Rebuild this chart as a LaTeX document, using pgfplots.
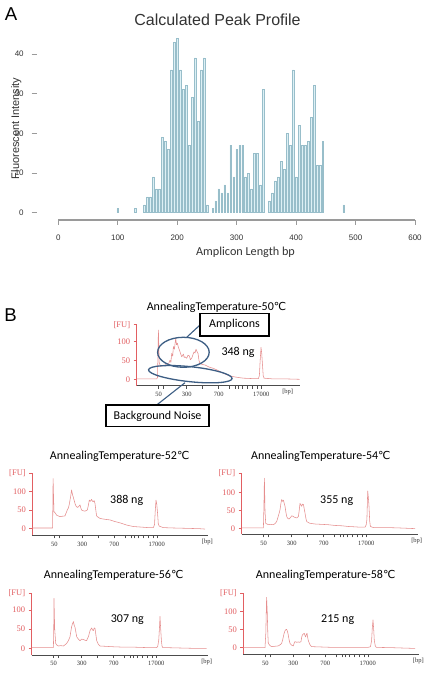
\documentclass[border=0pt]{standalone}
\usepackage{fontspec}
\setmainfont{Liberation Sans}
\newfontfamily\calfont{Carlito}
\newfontfamily\serfont{Liberation Serif}
\newfontfamily\dvfont{DejaVu Sans}
\usepackage{pgfplots}
\pgfplotsset{compat=1.18}
\definecolor{barfill}{HTML}{DDF0F5}
\definecolor{baredge}{HTML}{98BECA}
\definecolor{axgray}{HTML}{9A9A9A}
\definecolor{txtgray}{HTML}{333333}
\definecolor{furred}{HTML}{E25F62}
\definecolor{trace}{HTML}{E68E8E}
\definecolor{callblue}{HTML}{3D5E84}
\newcommand{\degC}{{\dvfont\fontsize{11}{12}\selectfont ℃}}
\newcommand{\ttl}[1]{{\calfont\fontsize{12}{14}\selectfont AnnealingTemperature-#1\degC}}
\pgfplotsset{
 ep/.style={
  scale only axis, xmin=0, axis lines=left, axis line style={-},
  x axis line style={draw=black!70, line width=0.6pt, -},
  y axis line style={draw=furred, line width=0.7pt, -},
  tick align=outside, major tick length=3pt, minor tick length=3pt,
  xtick={22,50,82,124.5}, xticklabels={50,300,700,17000},
  minor xtick={27,66,93,98.5,102,105.5,111,115.5,121},
  x tick style={draw=black!70, line width=0.5pt},
  ytick={0,50,100}, y tick style={draw=furred, line width=0.6pt},
  yticklabel style={font=\serfont\fontsize{8.5}{9}\selectfont, text=furred},
  xticklabel style={font=\serfont\fontsize{6.5}{7}\selectfont, text=black!80},
  /pgf/number format/assume math mode=true,
  extra x tick style={major tick length=0pt},
  extra x tick labels={[bp]},
  extra y tick labels={[FU]},
  clip=false,
 },
 trc/.style={trace, line width=0.55pt, no marks, line join=round},
}
\begin{document}
\begin{tikzpicture}
\useasboundingbox (0,0) rectangle (430pt,674pt);
\fill[white] (0,0) rectangle (430pt,674pt);

% ---------------- Panel A ----------------
\begin{axis}[at={(36.7pt,454pt)}, anchor=south west, scale only axis,
  width=378.3pt, height=185.9pt, xmin=-36.3, xmax=600, ymin=-1.84, ymax=45,
  axis lines=left, axis line style={draw=none}, tick align=outside,
  major tick length=5pt, tick style={draw=axgray, line width=0.7pt},
  xtick={0,100,...,600}, ytick={0,10,...,40},
  ticklabel style={font=\fontsize{8}{8}\selectfont, text=txtgray},
  xticklabel style={yshift=-6pt},
  yticklabel style={xshift=-4.5pt},
  /pgf/number format/assume math mode=true, clip=false]
\addplot[ybar, bar width=1.7pt, fill=barfill, draw=baredge, line width=0.45pt] coordinates {
(100,1)(130,1)(145,2)(150,4)(155,4)(160,9)(165,6)(170,6)(175,19)(180,18)(185,16)
(190,36)(195,43)(200,44)(205,36)(210,31)(215,32)(220,17)(225,29)(230,39)(235,23)
(240,36)(245,39)(250,2)(260,1)(265,3)(270,6)(275,5)(280,7)(285,5)(290,17)(295,9)
(300,16)(305,17)(310,17)(315,9)(320,10)(325,6)(330,15)(335,15)(340,7)(345,31)
(355,3)(360,5)(365,8)(370,9)(375,13)(380,11)(385,20)(390,17)(395,36)(400,9)
(405,22)(410,17)(415,17)(420,18)(425,24)(430,32)(435,12)(440,12)(445,18)(480,2)};
\draw[axgray, line width=1.2pt] (axis cs:0,-1.84) -- (axis cs:600,-1.84);
\end{axis}

% ---------------- Panel B : 50 ----------------
\begin{axis}[ep, at={(136.7pt,288.3pt)}, anchor=south west, width=163pt, height=60.9pt,
  xmax=163, ymin=-17, ymax=145, extra x ticks={151}, extra y ticks={145}]
\addplot[trc] coordinates {
(0,1)(10,1)(20,1)(20.8,5)(21.7,131)(22.5,45)(23.3,38)(25,34)(26.7,38)(28.3,36)(30,42)
(31.7,40)(33.3,51)(34.2,45)(35,69)(36,62)(36.7,87)(37.7,80)(39,109)(39.8,92)(40.7,96)
(41.7,85)(42.7,78)(43.7,70)(45,60)(46.7,67)(47.5,58)(48.3,60)(50,56)(51.3,64)(52.7,62)
(53.7,52)(55,56)(56.3,66)(57.3,73)(58.3,70)(59.3,80)(60.3,74)(61.3,69)(62.3,50)(63.3,42)
(65,40)(68.3,38)(72,33)(76.7,29)(81,24)(86.7,16)(91,11)(96.7,7)(101,5)(106.7,3)(115,2)
(121.7,2)(122.7,10)(123.3,42)(124.3,85)(125,70)(125.7,42)(126.5,10)(127.3,3)(132,2)
(136.7,1)(150,1)(163,0)};
\end{axis}

% ---------------- Panel B : 52 ----------------
\begin{axis}[ep, at={(32.3pt,138.7pt)}, anchor=south west, width=176pt, height=61.85pt,
  xmax=176, ymin=-19, ymax=150, extra x ticks={175}, extra y ticks={150}]
\addplot[trc] coordinates {
(0,1)(10,1)(20.3,1)(20.8,136)(21.3,80)(21.7,45)(23,42)(24.3,36)(26,34)(27.7,32)(30,33)
(32.7,34)(33.5,40)(34.3,45)(35.2,52)(36,55)(37,66)(37.7,77)(38.5,90)(39.3,105)(40.2,92)
(41,85)(42,75)(42.7,68)(43.5,62)(44.3,59)(45.3,57)(46.5,60)(47.7,64)(48.5,56)(49.3,50)
(51,48)(52.7,47)(54,49)(55,50)(56,62)(57,77)(58,74)(59.3,79)(60.2,74)(61,73)(61.8,76)
(62.7,68)(63.5,50)(64.3,34)(66,30)(67.7,27)(72,25)(77.7,23)(82,19)(87.7,15)(91,12)
(94.3,9)(101,5)(106,4)(111,3)(116,2)(121,2)(122.2,10)(123,50)(123.7,77)(124.5,65)
(125.3,40)(126,12)(127,6)(131,2)(141,1)(155,0)(167.7,-1)(172.7,-2)};
\end{axis}

% ---------------- Panel B : 54 ----------------
\begin{axis}[ep, at={(241.7pt,139.7pt)}, anchor=south west, width=176pt, height=61.06pt,
  xmax=176, ymin=-17, ymax=155, extra x ticks={175}, extra y ticks={155}]
\addplot[trc] coordinates {
(0,1)(10,1)(21.7,1)(22.2,60)(22.7,141)(23.3,50)(24,14)(25.3,12)(26.7,10)(29,11)(31.7,10)
(33.3,13)(35,19)(36.7,35)(37.7,45)(38.3,52)(39.2,70)(40,81)(40.8,76)(41.7,79)(42.5,70)
(43.3,62)(44.2,45)(45,33)(46,28)(47.3,26)(48.7,30)(50,35)(51.3,34)(52.7,31)(54,30)
(55,29)(55.8,31)(56.7,33)(57.5,50)(58.3,70)(59.2,66)(60,62)(60.8,68)(61.7,67)(62.5,55)
(63.3,43)(64.2,28)(65,19)(66.7,16)(68.3,14)(73.3,12)(80,11)(86.7,10)(93,8)(100,7)
(106.7,5)(113.3,4)(118.3,3)(123.3,3)(124.5,10)(125.2,25)(126,105)(126.7,85)(127.3,62)
(128,20)(128.7,5)(131.7,2)(145,2)(156.7,1)(173.3,-1)};
\end{axis}

% ---------------- Panel B : 56 ----------------
\begin{axis}[ep, at={(31.7pt,19pt)}, anchor=south west, width=176pt, height=61.7pt,
  xmax=176, ymin=-17.5, ymax=143.6, extra x ticks={175}, extra y ticks={143.6}]
\addplot[trc] coordinates {
(0,2)(10,2)(21.7,2)(22,40)(22.3,130)(23,50)(24,13)(25.3,8)(26.7,6)(29,7)(31.7,6)(33.3,9)
(35,13)(36.7,20)(38.3,30)(39.2,45)(40,57)(40.8,64)(41.7,70)(42.5,60)(43.3,55)(44.2,42)
(45,30)(46.7,24)(48.3,20)(50,24)(51.7,23)(53.3,21)(55,20)(55.8,26)(56.7,30)(57.5,38)
(58.3,46)(59.2,50)(60,53)(60.8,48)(61.7,46)(62.5,53)(63.3,52)(64.2,35)(65,20)(66.7,10)
(68.3,6)(75,5)(81.7,4)(91.7,3)(101.7,3)(113,2)(125,2)(126,5)(127,20)(127.7,50)(128.3,83)
(129,50)(129.7,20)(130.3,6)(131,2)(145,1)(160,0)(175,0)};
\end{axis}

% ---------------- Panel B : 58 ----------------
\begin{axis}[ep, at={(243.3pt,19.7pt)}, anchor=south west, width=176pt, height=60.95pt,
  xmax=176, ymin=-18.3, ymax=151, extra x ticks={175}, extra y ticks={151}]
\addplot[trc] coordinates {
(0,0)(10,0)(21.7,0)(22.5,40)(23.3,140)(24,95)(24.5,40)(25,12)(26.7,6)(28.3,3)(31.7,4)
(35,5)(36.7,8)(38.3,12)(39.2,20)(40,30)(40.8,40)(41.7,47)(42.5,50)(43.3,51)(44.2,45)
(45,35)(45.8,22)(46.7,12)(48.3,7)(50,5)(50.8,12)(51.7,17)(53.3,15)(55,16)(56.3,15)
(57.7,17)(58.3,28)(59,35)(60,38)(61,40)(61.7,34)(62.3,30)(63,36)(63.7,40)(64.3,30)
(65,20)(66.7,8)(68.3,3)(78,2)(88.3,1)(105,1)(125,1)(127.2,3)(128.3,20)(129,55)(129.7,77)
(130.3,55)(131,20)(132,5)(133,1)(150,0)(171.7,-2)};
\end{axis}

% ---------------- annotations ----------------
\begin{scope}[x=1pt, y=1pt]
\node[font=\fontsize{18.6}{20}\selectfont, text=black] at (11,660) {A};
\node[font=\fontsize{16}{18}\selectfont, text=txtgray, anchor=base] at (217.5,648.7) {Calculated Peak Profile};
\node[font=\fontsize{11}{12}\selectfont, text=txtgray, anchor=base, rotate=90] at (19,545.7) {Fluorescent Intensity};
\node[font=\calfont\fontsize{12.2}{13}\selectfont, text=txtgray, anchor=base] at (245.5,418) {Amplicon Length bp};

\node[font=\fontsize{18.6}{20}\selectfont, text=black] at (10.5,359) {B};
\node at (216.5,366.7) {\ttl{50}};
\node at (119.7,217.3) {\ttl{52}};
\node at (320.8,217.3) {\ttl{54}};
\node at (113.7,99) {\ttl{56}};
\node at (325.7,99) {\ttl{58}};

\node[font=\calfont\fontsize{12}{14}\selectfont] at (238,321.3) {348 ng};
\node[font=\calfont\fontsize{12}{14}\selectfont] at (126.7,173.3) {388 ng};
\node[font=\calfont\fontsize{12}{14}\selectfont] at (336.7,173.3) {355 ng};
\node[font=\calfont\fontsize{12}{14}\selectfont] at (127.3,54.7) {307 ng};
\node[font=\calfont\fontsize{12}{14}\selectfont] at (337.7,54.7) {215 ng};

% callouts
\draw[callblue, line width=1.3pt] (183.4,321.7) ellipse [x radius=25.8pt, y radius=15pt];
\draw[callblue, line width=1.1pt] (186.7,336.7) -- (200,349);
\draw[black, line width=1.2pt, fill=white] (200,360.7) rectangle (269,338);
\node[font=\calfont\fontsize{12}{14}\selectfont] at (234.5,349.3) {Amplicons};
\draw[callblue, line width=1.3pt, rotate around={-6:(190.3,299.8)}] (190.3,299.8) ellipse [x radius=42pt, y radius=7.5pt];
\draw[callblue, line width=1.1pt] (185,291.3) -- (156.7,269);
\draw[black, line width=1.2pt, fill=white] (106,269) rectangle (209,247.3);
\node[font=\calfont\fontsize{12}{14}\selectfont] at (157.5,258) {Background Noise};
\end{scope}
\end{tikzpicture}
\end{document}
